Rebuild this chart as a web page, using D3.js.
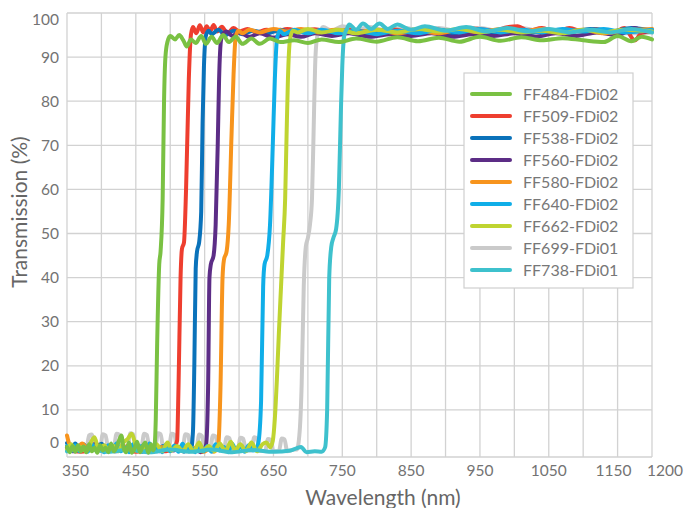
<!DOCTYPE html>
<html>
<head>
<meta charset="utf-8">
<script src="https://cdn.jsdelivr.net/npm/d3@7"></script>
<style>
  body { margin: 0; background: #fff; }
  svg { display: block; font-family: Lato, "Open Sans", sans-serif; }
</style>
</head>
<body>
<div id="graph"></div>
<script>
// [wavelength nm, transmission %]
const FF484 = [[350,1.6],[354,0.4],[358,1.8],[362,0.5],[366,2],[370,0.6],[374,1.7],[378,0.4],[382,2.2],[386,0.6],[390,1.5],[394,0.3],[398,2],[402,0.8],[406,1.4],[410,0.4],[414,2.4],[418,0.6],[422,1.6],[426,3.2],[429,4.2],[432,1.5],[436,0.4],[440,2.6],[444,0.3],[448,1.2],[452,2.8],[456,0.4],[460,1.8],[464,2.6],[468,0.3],[472,2.2],[475,0.8],[477,1.5],[479,8],[481,25],[484,43],[486,46],[489,58],[491,80],[493,90],[496,93.5],[500,94.8],[507,94],[513,95],[519,93.8],[524,92.4],[530,94],[537,93.2],[545,94.8],[552,93],[560,94.6],[568,93.2],[577,95],[585,93.4],[595,94.6],[605,93],[618,94.2],[630,93],[645,94.2],[660,93.4],[680,93.8],[700,93.2],[720,94],[745,93.4],[770,94.2],[800,93.5],[830,94.5],[860,93.6],[890,94.4],[920,93.5],[950,94.6],[980,93.7],[1010,94.5],[1040,93.8],[1070,94.3],[1100,93.8],[1130,93.4],[1150,94.8],[1170,93.6],[1185,94.6],[1200,94]];
const FF509 = [[350,1],[370,0.5],[390,1.2],[410,0.6],[430,1.1],[450,0.5],[470,1.2],[490,0.6],[505,1.4],[510,3],[512,15],[515,40],[517,46.5],[520,48],[523,60],[527,85],[530,95],[533,96.8],[538,95.4],[543,97.2],[548,95.6],[553,97],[558,95.8],[563,97.3],[568,95.8],[575,96.9],[583,95.4],[592,96.6],[600,95.8],[612,96.4],[625,95.6],[640,96.2],[655,95.8],[670,96.4],[690,95.8],[710,96.3],[735,95.6],[760,96.2],[790,95.8],[820,96.3],[850,95.7],[880,96.4],[910,95.8],[940,96.5],[970,96],[990,96.8],[1005,97],[1020,96],[1040,96.6],[1060,95.6],[1080,96.6],[1100,95.8],[1120,96.4],[1140,95.2],[1160,96.6],[1175,93.8],[1185,95.5],[1200,95.8]];
const FF538 = [[350,2.5],[356,1.2],[362,2.4],[368,1],[374,2.2],[380,1],[386,2],[392,1.2],[400,2.3],[408,0.8],[416,1.8],[424,0.6],[432,1.5],[440,0.8],[450,2],[460,0.5],[470,1.5],[480,0.6],[490,1.8],[500,0.8],[510,1.4],[520,0.5],[527,1.4],[530,1],[533,5],[535,20],[537,42],[539,46],[542,48],[545,55],[547,75],[549,88],[552,95],[556,96],[560,95.2],[570,96.2],[580,95],[592,96],[605,95.2],[620,96],[640,95.4],[660,96.2],[680,95.4],[700,96],[725,95.2],[750,95.8],[780,95],[810,95.8],[840,95.2],[870,96],[900,95],[930,95.8],[960,95.2],[990,96],[1020,95.4],[1050,96.2],[1080,95.6],[1110,96.4],[1140,95.8],[1170,96.6],[1200,96]];
const FF560 = [[350,1.5],[360,0.6],[370,1.8],[380,0.8],[392,2.4],[400,1],[410,1.6],[420,0.6],[432,1.8],[440,0.8],[452,1.6],[462,0.7],[472,1.5],[484,0.6],[495,2],[505,0.8],[515,1.6],[527,0.6],[537,1.2],[544,0.4],[548,0.8],[552,2],[555,15],[557,40],[559,43],[563,45],[566,52],[569,70],[571,85],[574,94],[578,95.5],[582,95.8],[590,94.8],[600,95.6],[615,94.6],[630,95.4],[650,94.4],[670,95.2],[690,94.6],[710,95.4],[735,94.8],[760,95.4],[790,94.6],[820,95.2],[850,94.8],[880,95.4],[910,94.6],[940,95.2],[970,94.8],[1000,95.4],[1030,94.6],[1060,95.4],[1090,94.8],[1120,95.6],[1150,95],[1175,96.6],[1190,95.8],[1200,96.2]];
const FF580 = [[350,4.2],[354,2],[362,1],[372,2.4],[382,0.8],[392,1.8],[404,0.6],[416,1.6],[428,0.8],[440,2],[452,0.6],[464,1.4],[476,0.5],[488,1.6],[500,0.7],[512,1.6],[524,0.6],[536,1.4],[548,0.5],[558,1.2],[563,0.5],[566,0.8],[570,2.5],[573,15],[576,40],[578,44],[582,46],[585,52],[589,72],[592,86],[595,94.5],[599,96],[605,95.4],[615,96.2],[630,95.6],[650,96.4],[670,95.8],[690,96.4],[715,95.6],[740,96.2],[770,95.6],[800,96.2],[830,95.4],[860,96],[890,95.4],[920,96.2],[950,95.6],[980,96.4],[1010,95.8],[1040,96.4],[1070,95.6],[1100,96.2],[1130,95.4],[1160,96],[1200,96.4]];
const FF640 = [[350,1.8],[356,0.8],[362,2],[368,0.6],[374,1.6],[380,0.5],[386,2.2],[392,0.9],[398,1.7],[404,0.4],[410,2],[416,0.8],[422,2.4],[428,0.6],[434,1.5],[440,0.4],[446,2.2],[452,0.7],[458,1.8],[464,0.5],[470,2.4],[476,0.8],[482,1.6],[488,0.4],[494,2.2],[500,0.6],[506,1.9],[512,0.5],[518,2.3],[524,0.7],[530,1.6],[536,0.4],[542,2.4],[548,0.6],[554,1.8],[560,0.5],[566,2.2],[572,0.8],[578,1.6],[584,0.4],[590,2.3],[596,0.7],[602,1.8],[608,0.5],[614,2],[620,0.8],[624,1],[628,2.5],[632,12],[635,38],[637,43],[641,45],[645,52],[649,70],[652,85],[655,94],[659,96],[665,95.2],[680,96.2],[700,95.4],[720,96.2],[745,95.4],[770,96],[800,95.2],[830,96],[860,95.4],[890,96.2],[920,95.6],[950,96.4],[980,95.6],[1010,96.2],[1040,95.6],[1070,96.4],[1100,95.8],[1130,96.4],[1160,95.6],[1200,96.2]];
const FF662 = [[350,1],[356,2.2],[362,0.8],[370,1.6],[378,0.6],[384,2.4],[390,3.8],[396,1],[404,2],[410,0.8],[418,1.8],[424,0.6],[432,2.6],[438,3.4],[444,4.6],[450,2],[456,0.6],[464,1.8],[472,0.8],[480,2.2],[488,0.6],[496,2.6],[502,0.8],[510,1.8],[518,0.6],[526,2.2],[534,0.6],[542,2.6],[548,0.8],[556,1.8],[564,0.6],[572,2.4],[580,0.6],[588,2.8],[594,0.8],[602,2.2],[610,0.6],[618,2.6],[626,0.6],[634,2.2],[640,2.6],[645,1.5],[649,3],[652,8],[655,17],[658,28],[661,38],[664,48],[667,58],[669,72],[671,85],[674,94],[678,96],[685,95.6],[700,96.4],[720,95.6],[745,96.2],[770,95.4],[800,96.2],[830,95.6],[860,96.4],[890,95.8],[920,96.4],[950,95.6],[980,96.2],[1010,95.6],[1040,96],[1070,95.4],[1100,96.2],[1130,95.6],[1160,96.2],[1200,95.8]];
const FF699 = [[350,0.8],[365,1.2],[378,0.8],[382,4.2],[386,4.4],[390,1.4],[398,1.2],[402,4.5],[406,4.2],[410,1.2],[418,1.4],[422,4.6],[426,4.4],[430,1.2],[438,1.3],[442,4.7],[446,4.5],[450,1.2],[458,1.4],[462,4.6],[466,4.3],[470,1.2],[478,1.3],[482,4.7],[486,4.5],[490,1.2],[498,1.3],[502,4.6],[506,4.4],[510,1.2],[518,1.3],[522,4.5],[526,4.3],[530,1.1],[538,1.2],[542,4.4],[546,4.1],[550,1],[558,1.1],[562,4.2],[566,4],[570,0.9],[578,1],[582,3.8],[586,3.6],[590,0.8],[598,0.9],[602,3.7],[606,3.5],[610,0.8],[618,0.8],[622,3.8],[626,3.5],[630,0.7],[638,0.7],[642,3.4],[646,3.2],[650,0.6],[658,0.7],[662,3.5],[666,3.3],[670,0.6],[680,1],[684,1],[688,5],[691,16],[694,38],[697,47],[700,49],[703,52],[706,58],[709,78],[711,90],[714,95],[718,96],[722,96.8],[735,96],[750,97],[770,96.2],[790,96.8],[815,96],[840,96.6],[865,96],[890,96.6],[920,95.8],[950,96.6],[980,95.8],[1010,96.6],[1040,95.8],[1070,96.2],[1100,95.6],[1130,96],[1160,95.4],[1200,95.6]];
const FF738 = [[350,0.6],[380,1.2],[410,0.5],[440,1],[470,0.4],[500,1],[530,0.5],[560,1],[590,0.4],[620,0.9],[650,0.5],[675,0.8],[690,1.6],[698,0.4],[710,0.6],[720,0.5],[725,1.5],[728,10],[731,40],[734,47],[737,49],[741,51],[745,60],[748,78],[750,88],[753,95],[757,96.5],[760,97.4],[770,96.2],[780,97.6],[792,96.4],[804,97.6],[816,96.4],[830,97.4],[850,96.2],[870,97],[900,96],[930,96.8],[960,95.8],[990,96.6],[1020,95.8],[1050,96.4],[1080,95.6],[1110,96.2],[1140,95.6],[1170,96.4],[1200,95.6]];

const names = ["FF484-FDi02","FF509-FDi02","FF538-FDi02","FF560-FDi02","FF580-FDi02","FF640-FDi02","FF662-FDi02","FF699-FDi01","FF738-FDi01"];
const colors = ["#7ac143","#ee3e2f","#0a72ba","#5c2d86","#f7941d","#10aee8","#bfd431","#cacaca","#3ec1cd"];
const series = [FF484, FF509, FF538, FF560, FF580, FF640, FF662, FF699, FF738];
// drawing order: green on top
const drawOrder = [7, 1, 2, 3, 4, 5, 6, 8, 0];
const xTicks = [350, 450, 550, 650, 750, 850, 950, 1050, 1150, 1200];
const yTicks = [0, 10, 20, 30, 40, 50, 60, 70, 80, 90, 100];

const width = 686, height = 508;
const svg = d3.select("#graph").append("svg").attr("width", width).attr("height", height);

const x = d3.scaleLinear().domain([350, 1200]).range([67, 652]);
const y = d3.scaleLinear().domain([-0.68, 100]).range([457, 13]);

const grid = svg.append("g").attr("stroke", "#d2d2d2").attr("stroke-width", 1.3);
grid.selectAll(".vg").data(d3.range(350, 1201, 50)).enter().append("line")
  .attr("x1", d => x(d)).attr("x2", d => x(d))
  .attr("y1", y(100)).attr("y2", y(-0.68));
grid.selectAll(".hg").data(yTicks.filter(d => d > 0).concat([-0.68])).enter().append("line")
  .attr("x1", x(350)).attr("x2", x(1200))
  .attr("y1", d => y(d)).attr("y2", d => y(d));

const line = d3.line()
  .x(d => x(d[0]))
  .y(d => y(d[1]))
  .curve(d3.curveMonotoneX);

svg.append("g").selectAll("path").data(drawOrder).enter().append("path")
  .attr("d", i => line(series[i]))
  .attr("fill", "none")
  .attr("stroke", i => colors[i])
  .attr("stroke-width", 4)
  .attr("stroke-linejoin", "round")
  .attr("stroke-linecap", "round");

// tick labels
const tickColor = "#737373";
svg.append("g").selectAll("text").data(xTicks).enter().append("text")
  .attr("x", (d, i) => (i === 0 || i === xTicks.length - 1) ? x(d) - 5 : x(d) - (d === 1150 ? 4 : 0))
  .attr("y", 476)
  .attr("text-anchor", (d, i) => (i === 0 || i === xTicks.length - 1) ? "start" : "middle")
  .attr("fill", tickColor)
  .style("font-size", "15.5px")
  .text(d => d);

svg.append("g").selectAll("text").data(yTicks).enter().append("text")
  .attr("x", 59)
  .attr("y", d => y(d) + (d === 0 ? -11 : d === 100 ? 7 : 0))
  .attr("dy", "0.35em")
  .attr("text-anchor", "end")
  .attr("fill", tickColor)
  .style("font-size", "15.5px")
  .text(d => d);

svg.append("text")
  .attr("x", 383).attr("y", 505)
  .attr("text-anchor", "middle")
  .attr("fill", "#666")
  .style("font-size", "21px")
  .text("Wavelength (nm)");

svg.append("text")
  .attr("transform", "translate(27,212) rotate(-90)")
  .attr("text-anchor", "middle")
  .attr("fill", "#666")
  .style("font-size", "21px")
  .text("Transmission (%)");

// legend
const legend = svg.append("g").attr("transform", "translate(464,73)");
legend.append("rect")
  .attr("width", 169).attr("height", 215)
  .attr("fill", "#fff").attr("stroke", "#cfcfcf").attr("stroke-width", 1.2);
const entries = legend.selectAll(".legend-entry").data(names).enter().append("g")
  .attr("class", "legend-entry")
  .attr("transform", (d, i) => `translate(0,${21 + i * 22})`);
entries.append("line")
  .attr("x1", 8).attr("x2", 46)
  .attr("stroke", (d, i) => colors[i])
  .attr("stroke-width", 4)
  .attr("stroke-linecap", "round");
entries.append("text")
  .attr("x", 59).attr("dy", "0.35em")
  .attr("fill", "#777")
  .style("font-size", "16px")
  .text(d => d);
</script>
</body>
</html>
